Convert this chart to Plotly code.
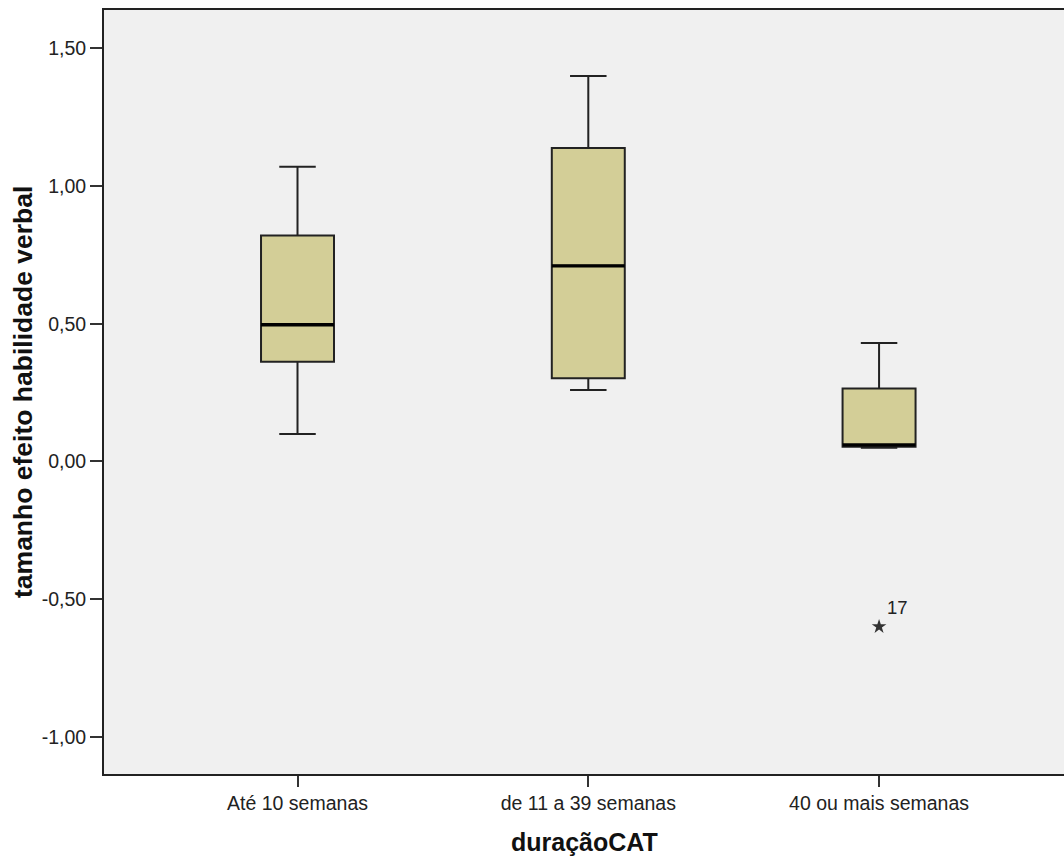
import plotly.graph_objects as go

categories = ["Até 10 semanas", "de 11 a 39 semanas", "40 ou mais semanas"]
positions = [0, 1, 2]
q1 = [0.362, 0.302, 0.053]
median = [0.496, 0.710, 0.060]
q3 = [0.820, 1.138, 0.265]
lower_whisker = [0.0995, 0.259, 0.050]
upper_whisker = [1.070, 1.399, 0.430]

outlier_x = [2]
outlier_y = [-0.600]
outlier_label = ["17"]

y_tickvals = [1.5, 1.0, 0.5, 0.0, -0.5, -1.0]
y_ticktext = ["1,50", "1,00", "0,50", "0,00", "-0,50", "-1,00"]

BOX_W = 0.251
FONT = "Liberation Sans, Arial, sans-serif"

fig = go.Figure()
fig.add_trace(go.Box(
    x=positions, q1=q1, median=median, q3=q3,
    lowerfence=lower_whisker, upperfence=upper_whisker,
    width=BOX_W, whiskerwidth=0.5,
    fillcolor="#d3ce97", line=dict(color="#222222", width=2),
    boxpoints=False, hoverinfo="skip", showlegend=False,
))

# thick median lines
mx, my = [], []
for p, m in zip(positions, median):
    mx += [p - BOX_W / 2, p + BOX_W / 2, None]
    my += [m, m, None]
fig.add_trace(go.Scatter(x=mx, y=my, mode="lines",
                         line=dict(color="#000000", width=3.4),
                         hoverinfo="skip", showlegend=False))

fig.add_trace(go.Scatter(
    x=outlier_x, y=outlier_y, mode="markers+text",
    marker=dict(symbol="star", size=11, color="#333333"),
    text=outlier_label, textposition="top right",
    textfont=dict(family=FONT, size=18.5, color="#222222"),
    hoverinfo="skip", showlegend=False,
))

fig.update_layout(
    width=1064, height=858,
    margin=dict(l=104, r=0, t=10, b=84),
    paper_bgcolor="#ffffff", plot_bgcolor="#f0f0f0",
    font=dict(family=FONT, size=19, color="#222222"),
    xaxis=dict(
        range=[-0.6655, 2.636], tickmode="array", tickvals=positions,
        ticktext=categories, showgrid=False, zeroline=False,
        showline=True, linecolor="#222222", linewidth=2, mirror=True,
        ticks="outside", ticklen=11, tickwidth=2, tickcolor="#333333",
        tickfont=dict(family=FONT, size=19.5, color="#222222"),
    ),
    yaxis=dict(
        range=[-1.135, 1.639], tickmode="array", tickvals=y_tickvals,
        ticktext=y_ticktext, showgrid=False, zeroline=False,
        showline=True, linecolor="#222222", linewidth=2,
        ticks="outside", ticklen=12, tickwidth=2, tickcolor="#333333",
        tickfont=dict(family=FONT, size=19.5, color="#222222"),
    ),
    annotations=[
        dict(text="<b>duraçãoCAT</b>", xref="paper", yref="paper",
             x=0.5, y=0, yshift=-68, xanchor="center", yanchor="middle",
             showarrow=False, font=dict(family=FONT, size=25, color="#111111")),
        dict(text="<b>tamanho efeito habilidade verbal</b>", xref="paper", yref="paper",
             x=0, xshift=-81, y=0.5, textangle=-90, xanchor="center", yanchor="middle",
             showarrow=False, font=dict(family=FONT, size=26.5, color="#111111")),
    ],
)

fig.write_html("out.html", config={"displayModeBar": False},
               post_script="document.body.style.margin='0px';")
